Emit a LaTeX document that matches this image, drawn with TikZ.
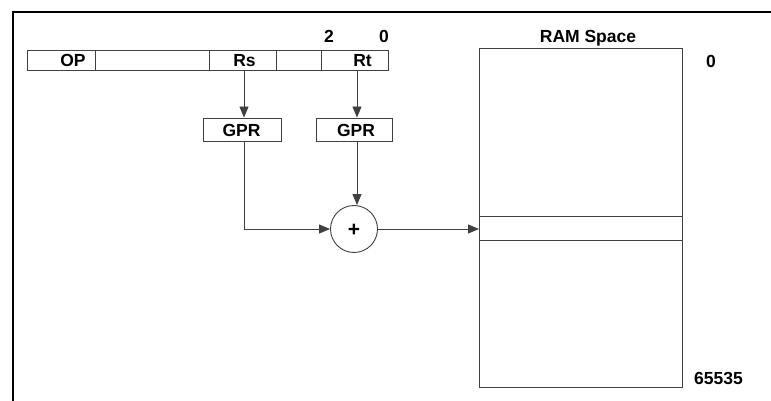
\documentclass[tikz,border=0pt]{standalone}
\usepackage{fontspec}
\setmainfont{Liberation Sans}
\usetikzlibrary{arrows.meta}
\begin{document}
\begin{tikzpicture}[x=1pt,y=-1pt,
  lbl/.style={font=\bfseries\fontsize{17.5}{20}\selectfont, inner sep=0pt, anchor=base},
  thin/.style={draw=black!75, line width=0.9pt},
  arr/.style={thin, -{Triangle[length=11pt,width=9pt]}}]
\useasboundingbox (0,0) rectangle (771,401);
\fill[white] (0,0) rectangle (771,401);
% frame
\draw[line width=2.5pt] (13,401) -- (13,12) -- (771,12);
% instruction word
\draw[thin] (27,50) rectangle (388,70);
\draw[thin] (95.5,50) -- (95.5,70);
\draw[thin] (209,50) -- (209,70);
\draw[thin] (276.5,50) -- (276.5,70);
\draw[thin] (321,50) -- (321,70);
\coordinate (rsb) at (244,70);
\coordinate (rtb) at (357,70);
\node[lbl] (op) at (73,66.5) {OP};
\node[lbl] (rs) at (244.5,66.5) {Rs};
\node[lbl] (rt) at (362.5,66.5) {Rt};
\node[lbl] (b2) at (329,43) {2};
\node[lbl] (b0) at (384,43) {0};
% GPRs
\node[thin, minimum width=78pt, minimum height=23pt, inner sep=0pt] (g1) at (242,129.5) {};
\node[thin, minimum width=76pt, minimum height=23pt, inner sep=0pt] (g2) at (354,129.5) {};
\node[lbl] (g1t) at (241.5,137) {GPR};
\node[lbl] (g2t) at (356,137) {GPR};
% adder
\node[thin, circle, minimum size=47pt, inner sep=0pt] (add) at (354,229) {};
\node[lbl, font=\bfseries\fontsize{21}{24}\selectfont] (plus) at (354,236) {+};
% RAM
\node[thin, minimum width=203pt, minimum height=339pt, inner sep=0pt, anchor=north west] (ram) at (479,48) {};
\draw[thin] (479,216) -- (682,216);
\draw[thin] (479,240) -- (682,240);
\node[lbl] (ramt) at (588,43) {RAM Space};
\node[lbl] (r0) at (711,68) {0};
\node[lbl] (rend) at (718.5,384) {65535};
% connectors
\draw[arr] (rsb) -- (g1.north -| rsb);
\draw[arr] (rtb) -- (g2.north -| rtb);
\draw[arr] (g1.south -| rsb) |- (add.west);
\draw[arr] (g2.south -| rtb) -- (add.north -| rtb);
\draw[arr] (add.east) -- (ram.west |- add.east);
\end{tikzpicture}
\end{document}
